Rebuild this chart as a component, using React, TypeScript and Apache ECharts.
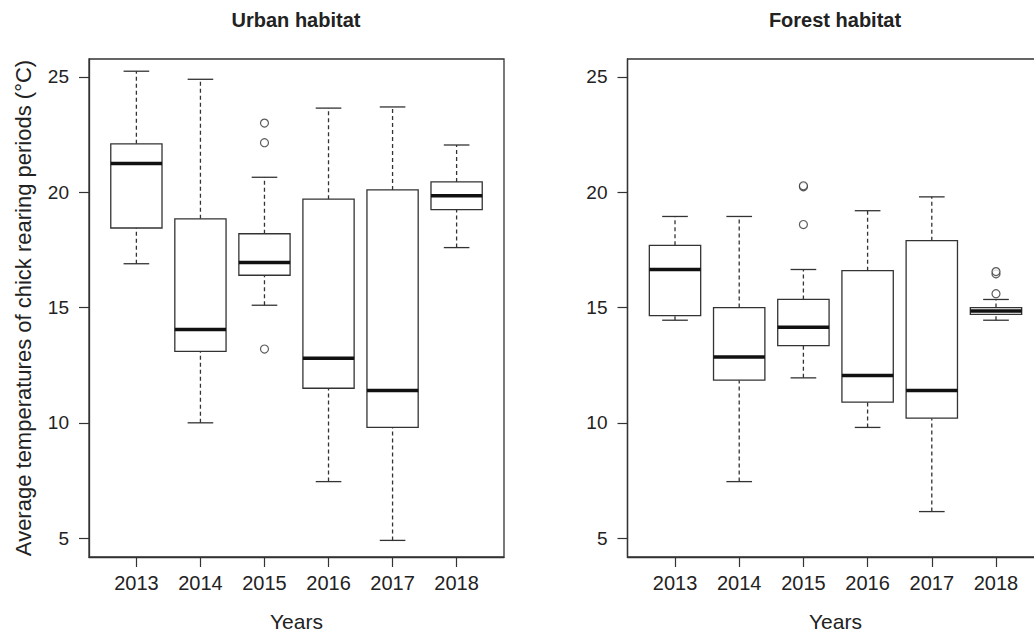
import React, { useEffect, useRef } from "react";
import * as echarts from "echarts";

const years = ["2013", "2014", "2015", "2016", "2017", "2018"];
const yTicks = [5, 10, 15, 20, 25];
const xTicks = [1, 2, 3, 4, 5, 6];

// Urban habitat: lower whisker, Q1, median, Q3, upper whisker
const urbanLow = [16.9, 10.0, 15.1, 7.45, 4.9, 17.6];
const urbanQ1 = [18.45, 13.1, 16.4, 11.5, 9.8, 19.25];
const urbanMedian = [21.25, 14.05, 16.95, 12.8, 11.4, 19.85];
const urbanQ3 = [22.1, 18.85, 18.2, 19.7, 20.1, 20.45];
const urbanHigh = [25.25, 24.9, 20.65, 23.65, 23.7, 22.05];
const urbanOutlierYear = [3, 3, 3];
const urbanOutlierValue = [23.0, 22.15, 13.2];

// Forest habitat
const forestLow = [14.45, 7.45, 11.95, 9.8, 6.15, 14.45];
const forestQ1 = [14.65, 11.85, 13.35, 10.9, 10.2, 14.7];
const forestMedian = [16.65, 12.85, 14.15, 12.05, 11.4, 14.85];
const forestQ3 = [17.7, 15.0, 15.35, 16.6, 17.9, 15.0];
const forestHigh = [18.95, 18.95, 16.65, 19.2, 19.8, 15.35];
const forestOutlierYear = [3, 3, 3, 6, 6, 6];
const forestOutlierValue = [20.24, 20.28, 18.6, 16.46, 16.56, 15.6];

const FONT = "'Liberation Sans', Arial, sans-serif";
const INK = "#222";

function boxData(lo: number[], q1: number[], med: number[], q3: number[], hi: number[]) {
  return lo.map((_, i) => [i + 1, lo[i], q1[i], med[i], q3[i], hi[i]]);
}

function renderBox(_params: any, api: any) {
  const x = api.value(0);
  const lo = api.value(1);
  const q1 = api.value(2);
  const med = api.value(3);
  const q3 = api.value(4);
  const hi = api.value(5);
  const pLo = api.coord([x, lo]);
  const pQ1 = api.coord([x, q1]);
  const pMed = api.coord([x, med]);
  const pQ3 = api.coord([x, q3]);
  const pHi = api.coord([x, hi]);
  const bl = api.coord([x - 0.4, q1])[0];
  const br = api.coord([x + 0.4, q1])[0];
  const cl = api.coord([x - 0.2, q1])[0];
  const cr = api.coord([x + 0.2, q1])[0];
  const cx = pMed[0];
  const thin = { stroke: "#333", lineWidth: 1.3, fill: null };
  const dash = { stroke: "#333", lineWidth: 1.3, lineDash: [4, 3] };
  return {
    type: "group",
    children: [
      { type: "line", shape: { x1: cx, y1: pLo[1], x2: cx, y2: pQ1[1] }, style: dash },
      { type: "line", shape: { x1: cx, y1: pQ3[1], x2: cx, y2: pHi[1] }, style: dash },
      { type: "line", shape: { x1: cl, y1: pLo[1], x2: cr, y2: pLo[1] }, style: thin },
      { type: "line", shape: { x1: cl, y1: pHi[1], x2: cr, y2: pHi[1] }, style: thin },
      {
        type: "rect",
        shape: { x: bl, y: pQ3[1], width: br - bl, height: pQ1[1] - pQ3[1] },
        style: { stroke: "#333", lineWidth: 1.3, fill: "#fff" },
      },
      { type: "line", shape: { x1: bl, y1: pMed[1], x2: br, y2: pMed[1] }, style: { stroke: "#111", lineWidth: 3.5 } },
    ],
  };
}

function xAxisFor(gridIndex: number) {
  return {
    gridIndex,
    type: "value",
    min: 0.26,
    max: 6.74,
    name: "Years",
    nameLocation: "middle",
    nameGap: 54,
    nameTextStyle: { fontFamily: FONT, fontSize: 21, color: INK },
    axisLine: { show: true, lineStyle: { color: "#333", width: 1.3 } },
    splitLine: { show: false },
    axisTick: { show: true, customValues: xTicks, length: 10, lineStyle: { color: "#333", width: 1.2 } },
    axisLabel: {
      customValues: xTicks,
      formatter: (v: number) => years[Math.round(v) - 1],
      fontFamily: FONT,
      fontSize: 20,
      color: INK,
      margin: 16,
    },
  };
}

function yAxisFor(gridIndex: number, name: string) {
  return {
    gridIndex,
    type: "value",
    min: 4.18,
    max: 25.78,
    name,
    nameLocation: "middle",
    nameRotate: 90,
    nameGap: 55,
    nameTextStyle: { fontFamily: FONT, fontSize: 22, color: INK },
    axisLine: { show: true, lineStyle: { color: "#333", width: 1.3 } },
    splitLine: { show: false },
    axisTick: { show: true, customValues: yTicks, length: 10, lineStyle: { color: "#333", width: 1.2 } },
    axisLabel: { customValues: yTicks, fontFamily: FONT, fontSize: 19, color: INK, margin: 20 },
  };
}

export default function App() {
  const ref = useRef<HTMLDivElement>(null);
  useEffect(() => {
    if (!ref.current) return;
    const chart = echarts.init(ref.current, null, { renderer: "svg" });
    const outlierStyle = { color: "#fff", borderColor: "#333", borderWidth: 1.2 };
    chart.setOption({
      animation: false,
      backgroundColor: "#fff",
      graphic: [
        {
          type: "text",
          x: 296,
          y: 20,
          style: {
            text: "Urban habitat",
            align: "center",
            verticalAlign: "middle",
            textAlign: "center",
            textVerticalAlign: "middle",
            font: `bold 20px ${FONT}`,
            fill: INK,
          },
        },
        {
          type: "text",
          x: 835,
          y: 20,
          style: {
            text: "Forest habitat",
            align: "center",
            verticalAlign: "middle",
            textAlign: "center",
            textVerticalAlign: "middle",
            font: `bold 20px ${FONT}`,
            fill: INK,
          },
        },
      ],
      grid: [
        {
          left: 89, top: 59, width: 415, height: 498, show: true,
          borderColor: "#333", borderWidth: 1.3, backgroundColor: "transparent",
          outerBoundsMode: "none", containLabel: false,
        },
        {
          left: 627.5, top: 59, width: 416, height: 498, show: true,
          borderColor: "#333", borderWidth: 1.3, backgroundColor: "transparent",
          outerBoundsMode: "none", containLabel: false,
        },
      ],
      xAxis: [xAxisFor(0), xAxisFor(1)],
      yAxis: [yAxisFor(0, "Average temperatures of chick rearing periods (°C)"), yAxisFor(1, "")],
      series: [
        {
          type: "custom",
          xAxisIndex: 0,
          yAxisIndex: 0,
          renderItem: renderBox,
          encode: { x: 0, y: [1, 2, 3, 4, 5] },
          data: boxData(urbanLow, urbanQ1, urbanMedian, urbanQ3, urbanHigh),
        },
        {
          type: "scatter",
          xAxisIndex: 0,
          yAxisIndex: 0,
          symbol: "circle",
          symbolSize: 8,
          itemStyle: outlierStyle,
          data: urbanOutlierYear.map((x, i) => [x, urbanOutlierValue[i]]),
        },
        {
          type: "custom",
          xAxisIndex: 1,
          yAxisIndex: 1,
          renderItem: renderBox,
          encode: { x: 0, y: [1, 2, 3, 4, 5] },
          data: boxData(forestLow, forestQ1, forestMedian, forestQ3, forestHigh),
        },
        {
          type: "scatter",
          xAxisIndex: 1,
          yAxisIndex: 1,
          symbol: "circle",
          symbolSize: 8,
          itemStyle: outlierStyle,
          data: forestOutlierYear.map((x, i) => [x, forestOutlierValue[i]]),
        },
      ],
    });
    return () => chart.dispose();
  }, []);
  return (
    <div
      ref={ref}
      style={{ position: "absolute", left: 0, top: 0, width: 1034, height: 639, background: "#fff" }}
    />
  );
}
